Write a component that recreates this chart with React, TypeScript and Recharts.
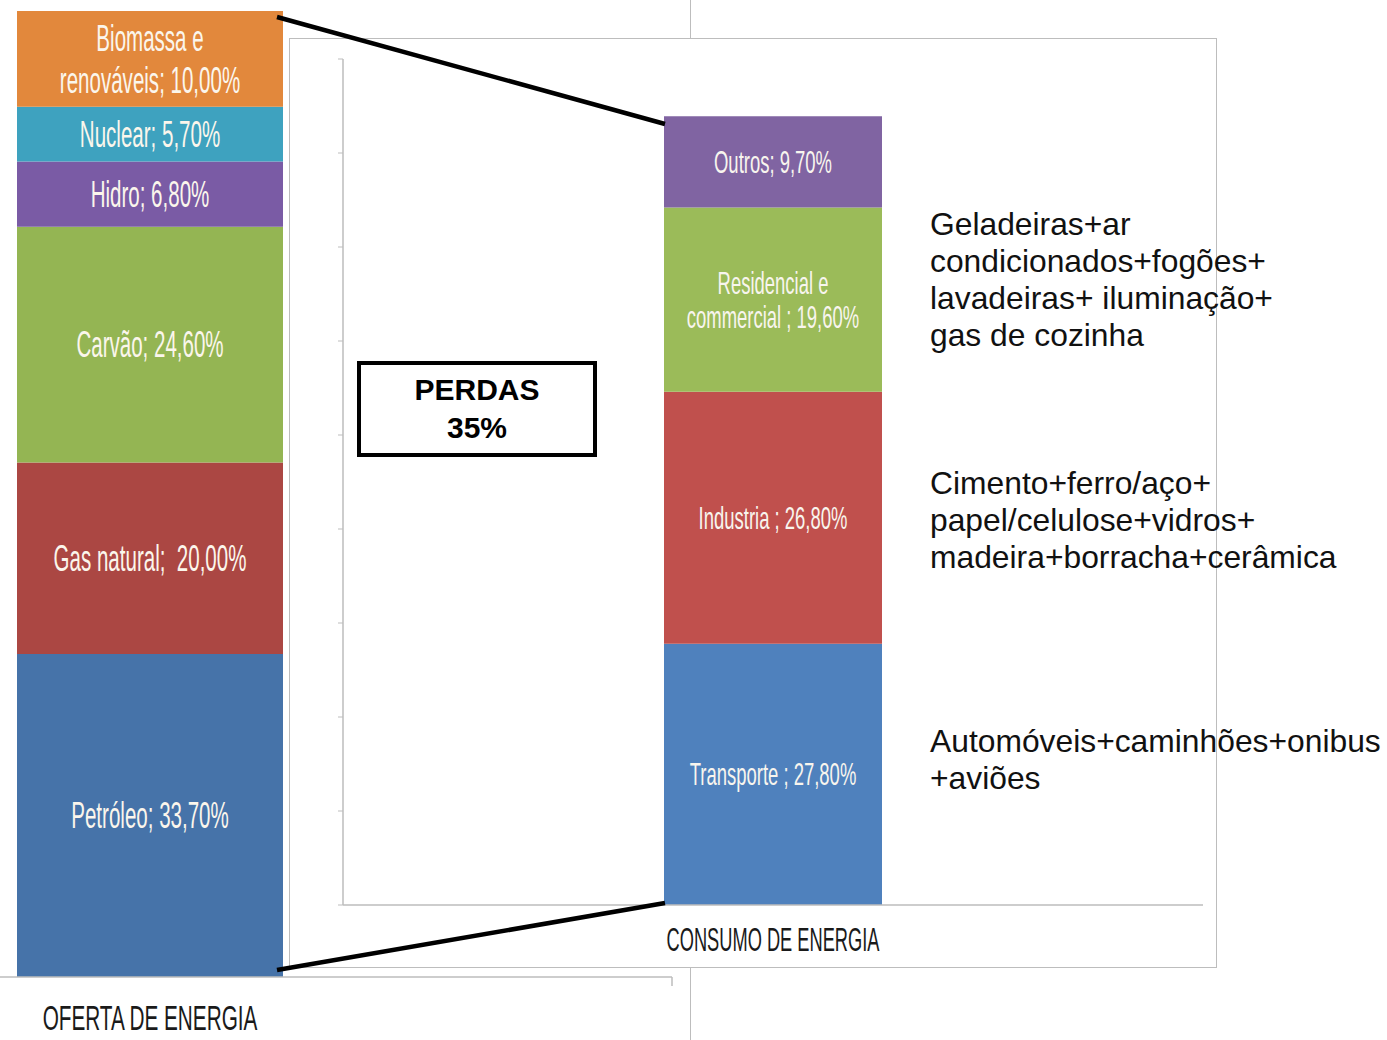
import React from "react";
import { BarChart, Bar, XAxis, YAxis, LabelList } from "recharts";

// supply side (left bar), bottom to top
const SUPPLY_CATEGORY = "OFERTA DE ENERGIA";
const SUPPLY_SOURCES = ["Petróleo", "Gas natural", "Carvão", "Hidro", "Nuclear", "Biomassa e renováveis"];
const SUPPLY_VALUES = [33.7, 20.0, 24.6, 6.8, 5.7, 10.0];
const SUPPLY_LABEL_LINES = [["Petróleo;"], ["Gas natural; "], ["Carvão;"], ["Hidro;"], ["Nuclear;"], ["Biomassa e", "renováveis;"]];
const SUPPLY_COLORS = ["#4673A9", "#AB4743", "#94B553", "#7A5BA5", "#3EA2BF", "#E2883C"];

// consumption side (right bar), bottom to top
const USE_CATEGORY = "CONSUMO DE ENERGIA";
const USE_SECTORS = ["Transporte", "Industria", "Residencial e commercial", "Outros"];
const USE_VALUES = [27.8, 26.8, 19.6, 9.7];
const USE_LABEL_LINES = [["Transporte ;"], ["Industria ;"], ["Residencial e", "commercial ;"], ["Outros;"]];
const USE_COLORS = ["#4F81BD", "#C0504D", "#9BBB59", "#8064A2"];
const USE_TICKS = [0, 10, 20, 30, 40, 50, 60, 70, 80, 90];

const LOSS_TEXT = ["PERDAS", "35%"];
const NOTES = [
  ["Geladeiras+ar", "condicionados+fogões+", "lavadeiras+ iluminação+", "gas de cozinha"],
  ["Cimento+ferro/aço+", "papel/celulose+vidros+", "madeira+borracha+cerâmica"],
  ["Automóveis+caminhões+onibus", "+aviões"],
];
const NOTE_TOPS = [206, 465, 723];

const FONT = "'Liberation Sans', Arial, sans-serif";
const AXIS_GREY = "#bdbdbd";

const pct = (v: number) => v.toFixed(2).replace(".", ",") + "%";

const supplyRow: Record<string, string | number> = { name: SUPPLY_CATEGORY };
SUPPLY_SOURCES.forEach((s, i) => (supplyRow[s] = SUPPLY_VALUES[i]));
const useRow: Record<string, string | number> = { name: USE_CATEGORY };
USE_SECTORS.forEach((s, i) => (useRow[s] = USE_VALUES[i]));

type LabelOpts = { size: number; sx: number; sy: number; gap: number; color: string };

// narrow, tall text like the original (stretched Arial Narrow look)
function segmentLabel(lines: string[], value: number, o: LabelOpts) {
  return (props: any) => {
    const cx = Number(props.x) + Number(props.width) / 2;
    const cy = Number(props.y) + Number(props.height) / 2;
    const text = lines.map((l, i) => (i === lines.length - 1 ? `${l} ${pct(value)}` : l));
    return (
      <g>
        {text.map((t, i) => (
          <text
            key={i}
            transform={`translate(${cx},${cy + (i - (text.length - 1) / 2) * o.gap}) scale(${o.sx},${o.sy})`}
            textAnchor="middle"
            dominantBaseline="central"
            fontFamily={FONT}
            fontSize={o.size}
            fill={o.color}
            style={{ whiteSpace: "pre" }}
          >
            {t}
          </text>
        ))}
      </g>
    );
  };
}

function categoryTick(offset: number, o: { size: number; sx: number; sy: number }) {
  return (props: any) => (
    <text
      transform={`translate(${props.x},${props.y + offset}) scale(${o.sx},${o.sy})`}
      textAnchor="middle"
      dominantBaseline="central"
      fontFamily={FONT}
      fontSize={o.size}
      fill="#1a1a1a"
    >
      {props.payload.value}
    </text>
  );
}

export default function App() {
  const leftLabel = { size: 26, sx: 0.79, sy: 1.42, gap: 42, color: "#fbf6ec" };
  const rightLabel = { size: 22, sx: 0.84, sy: 1.4, gap: 34, color: "#f8f5ee" };

  return (
    <div style={{ position: "absolute", left: 0, top: 0, width: 1387, height: 1040, background: "#fff", overflow: "hidden" }}>
      {/* supply chart */}
      <div style={{ position: "absolute", left: 0, top: 0, width: 691, height: 1040, borderRight: `1px solid ${AXIS_GREY}`, boxSizing: "border-box" }}>
        <BarChart width={690} height={1040} data={[supplyRow]} margin={{ top: 11, right: 18, left: 0, bottom: 0 }} barCategoryGap={0}>
          <XAxis
            dataKey="name"
            height={63}
            padding={{ left: 0, right: 372 }}
            axisLine={{ stroke: AXIS_GREY, strokeWidth: 1.5 }}
            tickLine={false}
            tickSize={0}
            tickMargin={0}
            tick={categoryTick(41, { size: 25, sx: 0.83, sy: 1.42 })}
          />
          <YAxis hide domain={[0, 100.8]} />
          {SUPPLY_SOURCES.map((s, i) => (
            <Bar key={s} dataKey={s} stackId="a" fill={SUPPLY_COLORS[i]} barSize={266} isAnimationActive={false}>
              <LabelList dataKey={s} content={segmentLabel(SUPPLY_LABEL_LINES[i], SUPPLY_VALUES[i], leftLabel)} />
            </Bar>
          ))}
        </BarChart>
      </div>

      {/* consumption chart */}
      <div style={{ position: "absolute", left: 289, top: 38, width: 928, height: 930, border: `1px solid ${AXIS_GREY}`, boxSizing: "border-box", background: "#fff" }}>
        <BarChart width={926} height={928} data={[useRow]} margin={{ top: 20, right: 13, left: 43, bottom: 0 }} barCategoryGap={0}>
          <XAxis
            dataKey="name"
            height={62}
            axisLine={{ stroke: AXIS_GREY, strokeWidth: 1.5 }}
            tickLine={false}
            tickSize={0}
            tickMargin={0}
            tick={categoryTick(35, { size: 22, sx: 0.83, sy: 1.5 })}
          />
          <YAxis
            domain={[0, 90]}
            ticks={USE_TICKS}
            width={10}
            tickSize={5}
            axisLine={{ stroke: AXIS_GREY, strokeWidth: 1.5 }}
            tickLine={{ stroke: AXIS_GREY }}
            tick={() => <g />}
          />
          {USE_SECTORS.map((s, i) => (
            <Bar key={s} dataKey={s} stackId="a" fill={USE_COLORS[i]} barSize={218} isAnimationActive={false}>
              <LabelList dataKey={s} content={segmentLabel(USE_LABEL_LINES[i], USE_VALUES[i], rightLabel)} />
            </Bar>
          ))}
        </BarChart>
      </div>

      {/* connector lines and losses box */}
      <svg width={1387} height={1040} style={{ position: "absolute", left: 0, top: 0, pointerEvents: "none" }}>
        <line x1={672} y1={977} x2={672} y2={986} stroke={AXIS_GREY} strokeWidth={1.5} />
        <line x1={277} y1={17} x2={665} y2={124} stroke="#000" strokeWidth={4.5} />
        <line x1={277} y1={970} x2={665} y2={903} stroke="#000" strokeWidth={4.5} />
        <rect x={359} y={363} width={236} height={92} fill="#fff" stroke="#000" strokeWidth={4} />
        <text x={477} y={400} textAnchor="middle" fontFamily={FONT} fontWeight="bold" fontSize={30} fill="#000">
          {LOSS_TEXT[0]}
        </text>
        <text x={477} y={438} textAnchor="middle" fontFamily={FONT} fontWeight="bold" fontSize={30} fill="#000">
          {LOSS_TEXT[1]}
        </text>
      </svg>

      {NOTES.map((lines, i) => (
        <div
          key={i}
          style={{ position: "absolute", left: 930, top: NOTE_TOPS[i], fontFamily: FONT, fontSize: 31.8, lineHeight: "37px", color: "#111", whiteSpace: "pre" }}
        >
          {lines.join("\n")}
        </div>
      ))}
    </div>
  );
}
